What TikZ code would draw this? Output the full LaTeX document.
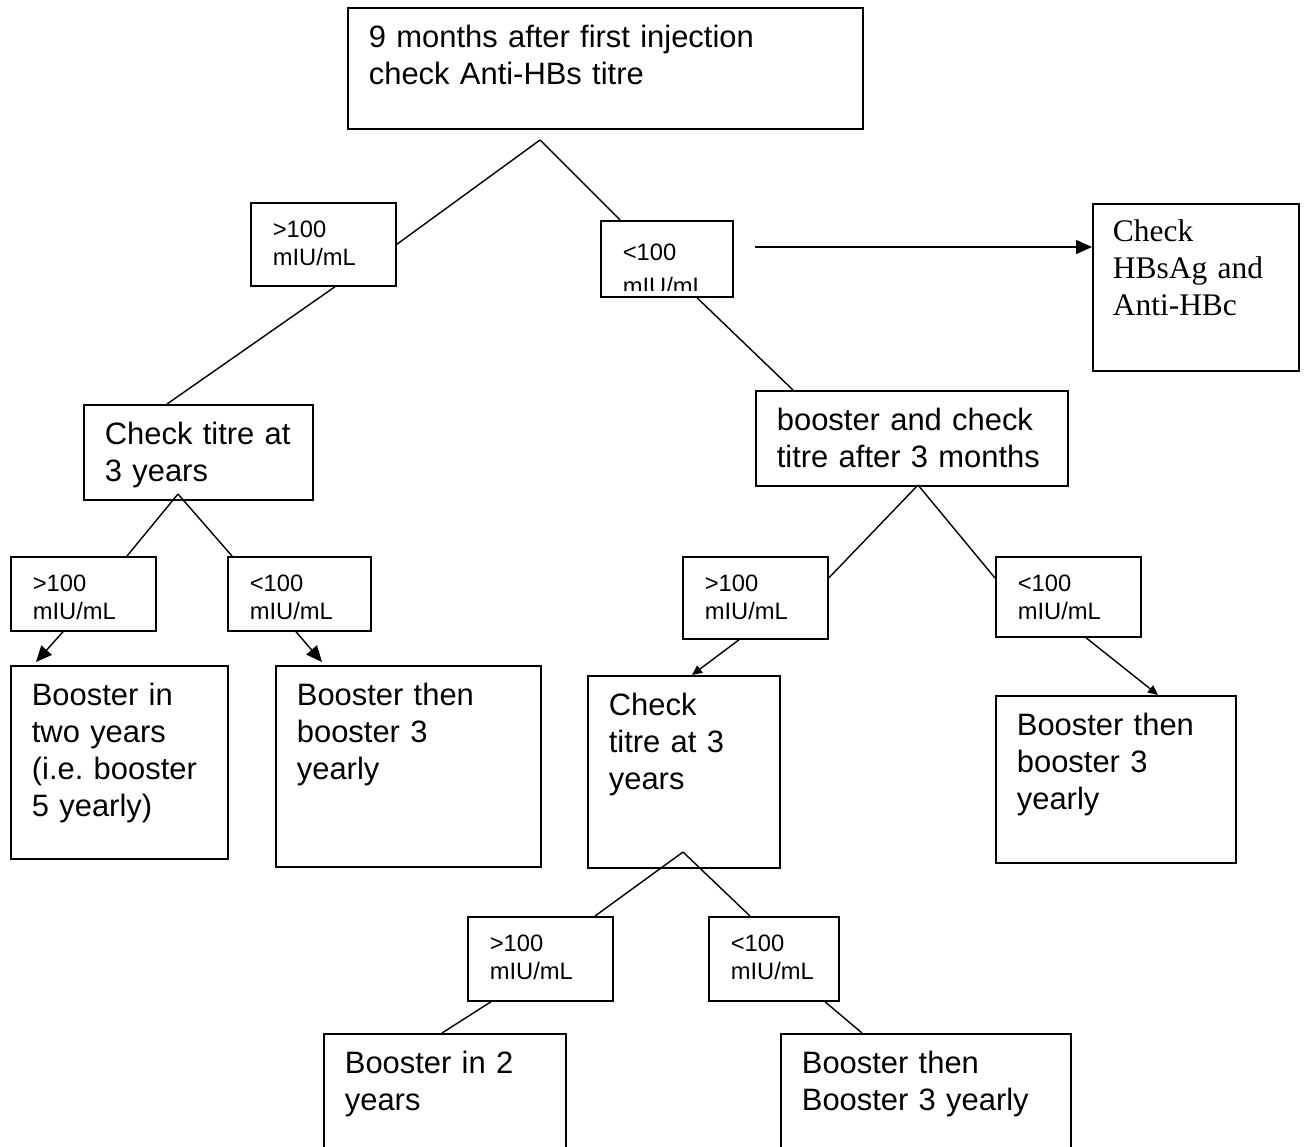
\documentclass[tikz,border=0pt]{standalone}
\usepackage{fontspec}
\setmainfont{Liberation Sans}
\newfontfamily\timesfont{Liberation Serif}
\usetikzlibrary{arrows.meta}
\frenchspacing
\newcommand{\bigtxt}{\fontsize{17.6}{21}\selectfont}
\newcommand{\smalltxt}{\fontsize{13.5}{16}\selectfont}
\newcommand{\serftxt}{\timesfont\fontsize{17.9}{21}\selectfont}
\tikzset{
	cell/.style={draw, line width=1pt, anchor=north west, align=left, inner xsep=0.42cm, inner ysep=0pt, text height=0.8cm, font=\bigtxt}, % boxes with top-left text
	tag/.style={cell, inner xsep=0.44cm, text height=0.7cm, font=\smalltxt}, % small titre labels
	link/.style={line width=0.8pt}, % plain branch lines
	tip/.style={link, -{Triangle[length=0.32cm, width=0.28cm]}}, % large arrow heads
	smalltip/.style={link, -{Triangle[length=0.2cm, width=0.18cm]}}, % small arrow heads
}

\begin{document}
\begin{tikzpicture}[x=0.02cm, y=-0.02cm]
		\useasboundingbox (0,0) rectangle (1304,1146);
		% first level
		\node[cell, text width=9.46cm, text depth=1.62cm] (top) at (347,7) {9 months after first injection\\check Anti-HBs titre};
		\node[tag, text width=2.02cm, text depth=0.96cm] (a) at (250,202) {>100\\mIU/mL};
		\node[tag, text width=1.76cm, text height=0.8cm, text depth=0.72cm] (b) at (600,220) {};
		\begin{scope}
		\clip (b.north west) rectangle ([shift={(0,-7)}]b.south east);
		\node[tag, draw=none, font=\fontsize{13.5}{19}\selectfont, text width=1.76cm, text height=0.8cm, text depth=0.72cm] (btxt) at (600,220) {<100\\mIU/mL};
		\end{scope}
		\node[cell, font=\serftxt, inner xsep=0.4cm, text height=0.76cm, text width=3.32cm, text depth=2.58cm] (c) at (1092,203) {Check\\HBsAg and\\Anti-HBc};
		
		% left branch
		\node[cell, text width=3.74cm, text depth=1.10cm] (d) at (83,404) {Check titre at\\3 years};
		\node[tag, text width=2.02cm, text depth=0.78cm] (e) at (10,556) {>100\\mIU/mL};
		\node[tag, text width=1.98cm, text depth=0.78cm] (f) at (227,556) {<100\\mIU/mL};
		\node[cell, text width=3.50cm, text depth=3.06cm] (g) at (10,665) {Booster in\\two years\\(i.e. booster\\5 yearly)};
		\node[cell, text width=4.46cm, text depth=3.22cm] (h) at (275,665) {Booster then\\booster 3\\yearly};
		
		% right branch
		\node[cell, text width=5.40cm, text depth=1.10cm] (i) at (755,390) {booster and check\\titre after 3 months};
		\node[tag, text width=2.02cm, text depth=0.94cm] (j) at (682,556) {>100\\mIU/mL};
		\node[tag, text width=2.02cm, text depth=0.90cm] (k) at (995,556) {<100\\mIU/mL};
		\node[cell, text width=3.00cm, text depth=3.04cm] (l) at (587,675) {Check\\titre at 3\\years};
		\node[cell, text width=3.96cm, text depth=2.54cm] (m) at (995,695) {Booster then\\booster 3\\yearly};
		\node[tag, text width=2.02cm, text depth=0.98cm] (n) at (467,916) {>100\\mIU/mL};
		\node[tag, text width=1.72cm, text depth=0.98cm] (o) at (708,916) {<100\\mIU/mL};
		\node[cell, text width=4.00cm, text depth=2.20cm] (p) at (323,1033) {Booster in 2\\years};
		\node[cell, text width=4.96cm, text depth=2.20cm] (q) at (780,1033) {Booster then\\Booster 3 yearly};
		
		% branch points
		\coordinate (t1) at (540,140);
		\coordinate (d1) at (178,494);
		\coordinate (i1) at (918,485);
		\coordinate (l1) at (683,852);
		\coordinate (go) at (755,247);
		
		% connectors
		\draw[link] (t1) -- (a.east);
		\draw[link] (t1) -- ([shift={(20,0)}]b.north west);
		\draw[tip] (go) -- ([shift={(0,44)}]c.north west);
		\draw[link] ([shift={(85,0)}]a.south west) -- ([shift={(84,0)}]d.north west);
		\draw[link] ([shift={(97,0)}]b.south west) -- ([shift={(38,0)}]i.north west);
		\draw[link] (d1) -- ([shift={(117,0)}]e.north west);
		\draw[link] (d1) -- ([shift={(5,0)}]f.north west);
		\draw[tip] ([shift={(53,0)}]e.south west) -- ([shift={(26,-3)}]g.north west);
		\draw[tip] ([shift={(69,0)}]f.south west) -- ([shift={(47,-3)}]h.north west);
		\draw[link] (i1) -- ([shift={(0,22)}]j.north east);
		\draw[link] (i1) -- ([shift={(0,22)}]k.north west);
		\draw[smalltip] ([shift={(57,0)}]j.south west) -- ([shift={(105,0)}]l.north west);
		\draw[smalltip] ([shift={(91,0)}]k.south west) -- ([shift={(163,0)}]m.north west);
		\draw[link] (l1) -- ([shift={(128,0)}]n.north west);
		\draw[link] (l1) -- ([shift={(42,0)}]o.north west);
		\draw[link] ([shift={(24,0)}]n.south west) -- ([shift={(119,0)}]p.north west);
		\draw[link] ([shift={(117,0)}]o.south west) -- ([shift={(82,0)}]q.north west);
\end{tikzpicture}
\end{document}
